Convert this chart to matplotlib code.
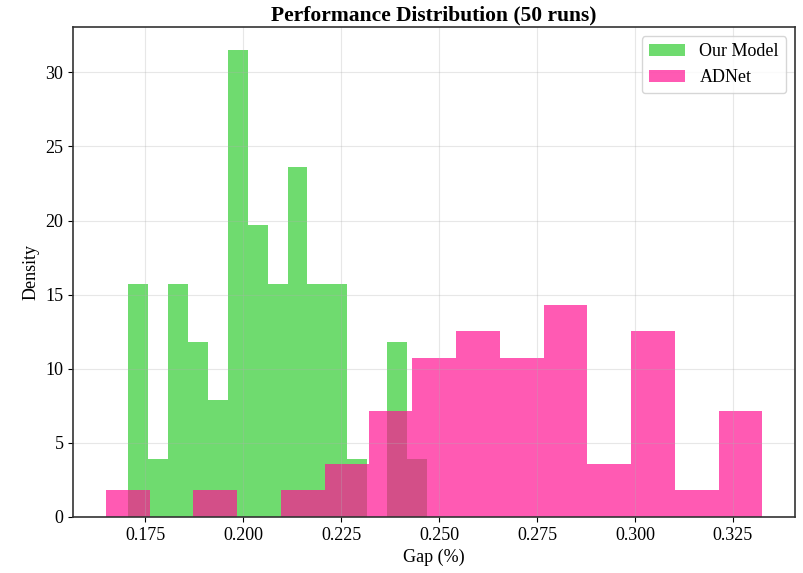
import numpy as np
import matplotlib
matplotlib.use("Agg")
import matplotlib.pyplot as plt

plt.rcParams["font.family"] = ["Liberation Serif", "DejaVu Serif"]

# bin edges (15 bins each) and run counts per bin
ours_lo, ours_hi = 0.1707, 0.2469
ours_counts = [4, 1, 4, 3, 2, 8, 5, 4, 6, 4, 4, 1, 0, 3, 1]

adnet_lo, adnet_hi = 0.1650, 0.3325
adnet_counts = [1, 0, 1, 0, 1, 2, 4, 6, 7, 6, 8, 2, 7, 1, 4]

labels = ["Our Model", "ADNet"]

ours_edges = np.linspace(ours_lo, ours_hi, len(ours_counts) + 1)
adnet_edges = np.linspace(adnet_lo, adnet_hi, len(adnet_counts) + 1)

fig, ax = plt.subplots(figsize=(8.04, 5.73), dpi=100)
fig.subplots_adjust(left=0.091, right=0.989, top=0.953, bottom=0.098)

ax.hist(ours_edges[:-1], bins=ours_edges, weights=ours_counts, density=True,
        color="limegreen", alpha=0.7, label=labels[0])
ax.hist(adnet_edges[:-1], bins=adnet_edges, weights=adnet_counts, density=True,
        color="deeppink", alpha=0.7, label=labels[1])

ax.set_title("Performance Distribution (50 runs)", fontsize=15.5, fontweight="bold", pad=5)
ax.set_xlabel("Gap (%)", fontsize=13)
ax.set_ylabel("Density", fontsize=13)
ax.tick_params(labelsize=13)
ax.grid(True, alpha=0.3)
for s in ax.spines.values():
    s.set_color("#333333")
    s.set_linewidth(1.2)
ax.legend(fontsize=13, loc="upper right")

fig.savefig("out.png", dpi=100)
